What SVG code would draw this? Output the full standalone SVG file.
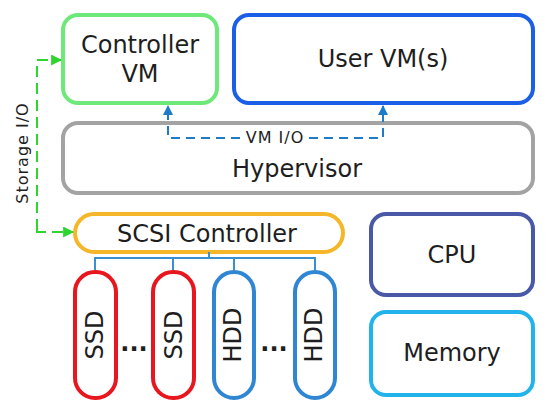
<svg xmlns="http://www.w3.org/2000/svg" width="554" height="408" viewBox="0 0 554 408">
<defs>
<style>
.box{fill:#fff;stroke-width:4}
.t{font-family:"DejaVu Sans","Open Sans",sans-serif;fill:#1e1e1e;text-anchor:middle}
.big{font-size:24px}
.sm{font-size:16px;letter-spacing:1px}
.bus{fill:none;stroke:#3a8fd0;stroke-width:2}
</style>
<marker id="ab" viewBox="0 0 10 10" refX="9" refY="5" markerWidth="10" markerHeight="10" markerUnits="userSpaceOnUse" orient="auto"><path d="M0,0L10,5L0,10z" fill="#1e7bc8"/></marker>
<marker id="ag" viewBox="0 0 10 10" refX="9" refY="5" markerWidth="11" markerHeight="11" markerUnits="userSpaceOnUse" orient="auto"><path d="M0,0L10,5L0,10z" fill="#2ed52e"/></marker>
</defs>
<rect width="554" height="408" fill="#fff"/>
<g id="controller-vm"><rect class="box" x="63" y="15" width="154" height="88" rx="15" stroke="#6fe87a"/><text class="t big" x="140" y="53">Controller</text><text class="t big" x="140" y="82">VM</text></g>
<g id="user-vm"><rect class="box" x="234" y="15" width="299" height="88" rx="15" stroke="#1a5fe6"/><text class="t big" x="383" y="67">User VM(s)</text></g>
<g id="hypervisor"><rect class="box" x="63" y="123" width="470" height="70" rx="15" stroke="#a3a3a3"/><text class="t big" x="297" y="177">Hypervisor</text></g>
<g id="scsi"><rect class="box" x="75" y="214" width="268" height="38" rx="19" stroke="#f6b62a"/><text class="t big" x="207" y="242">SCSI Controller</text></g>
<g id="ssd1"><rect class="box" x="75" y="272" width="41" height="126" rx="20" stroke="#e8161e"/><text class="t big" transform="translate(103,335) rotate(-90)">SSD</text></g>
<g id="ssd2"><rect class="box" x="153" y="272" width="41" height="126" rx="20" stroke="#e8161e"/><text class="t big" transform="translate(182,335) rotate(-90)">SSD</text></g>
<g id="hdd1"><rect class="box" x="214" y="272" width="40" height="126" rx="20" stroke="#2f86d2"/><text class="t big" transform="translate(241,335) rotate(-90)">HDD</text></g>
<g id="hdd2"><rect class="box" x="295" y="272" width="40" height="126" rx="20" stroke="#2f86d2"/><text class="t big" transform="translate(322,335) rotate(-90)">HDD</text></g>
<g id="dots"><text class="t" style="font-size:24px;font-weight:bold" x="134" y="351">...</text><text class="t" style="font-size:24px;font-weight:bold" x="274" y="351">...</text></g>
<g id="cpu"><rect class="box" x="371" y="214" width="162" height="81" rx="15" stroke="#4a58a8"/><text class="t big" x="452" y="263">CPU</text></g>
<g id="memory"><rect class="box" x="371" y="312" width="162" height="83" rx="15" stroke="#22b3ea"/><text class="t big" x="452" y="361">Memory</text></g>
<g id="connectors">
<path class="bus" d="M209,252V258M95,270V258H315V270M173,258V270M234,258V270"/>
<path d="M240,138H168V106" fill="none" stroke="#1e7bc8" stroke-width="2" stroke-dasharray="9,6" marker-end="url(#ab)"/>
<path d="M309,138H383V106" fill="none" stroke="#1e7bc8" stroke-width="2" stroke-dasharray="9,6" marker-end="url(#ab)"/>
<text class="t sm" x="275" y="143">VM I/O</text>
<path d="M37,230V60H61" fill="none" stroke="#2ed52e" stroke-width="2" stroke-dasharray="11,6" marker-end="url(#ag)"/>
<path d="M37,230V232H73" fill="none" stroke="#2ed52e" stroke-width="2" stroke-dasharray="11,6" marker-end="url(#ag)"/>
<text class="t sm" transform="translate(28,153) rotate(-90)">Storage I/O</text>
</g>
</svg>
